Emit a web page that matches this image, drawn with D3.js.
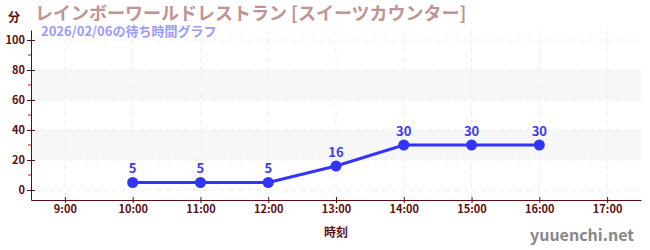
<!DOCTYPE html>
<html lang="ja">
  <head>
    <meta charset="UTF-8" />
    <title>待ち時間グラフ</title>
    <script src="https://d3js.org/d3.v7.min.js"></script>
    <style>
      body { margin: 0; background: #fff; }
      text { font-family: "Noto Sans CJK JP", "Noto Sans", sans-serif; }
    </style>
  </head>
  <body>
    <svg width="650" height="250"></svg>
    <script>
      // data
      const hours = [10, 11, 12, 13, 14, 15, 16];
      const waits = [5, 5, 5, 16, 30, 30, 30];
      const xTicks = [9, 10, 11, 12, 13, 14, 15, 16, 17];
      const yTicks = [0, 20, 40, 60, 80, 100];
      const bands = [[20, 40], [60, 80]];
      const title = "レインボーワールドレストラン [スイーツカウンター]";
      const subtitle = "2026/02/06の待ち時間グラフ";

      const svg = d3.select("svg");
      const plotL = 31, plotR = 641, plotT = 30, plotB = 200;
      const dark = "#5c0f0f";

      const x = d3.scaleLinear().domain([8.5, 17.5]).range([plotL, plotR]);
      const y = d3.scaleLinear().domain([-6.67, 106.67]).range([plotB, plotT]);

      // bands
      svg.append("g").selectAll("rect").data(bands).enter().append("rect")
        .attr("x", plotL).attr("width", plotR - plotL)
        .attr("y", d => y(d[1])).attr("height", d => y(d[0]) - y(d[1]))
        .attr("fill", "#f7f7f7");

      // grid
      const grid = svg.append("g").attr("stroke", "#eeeeee").attr("stroke-dasharray", "5,4");
      grid.selectAll("line.v").data(xTicks).enter().append("line")
        .attr("x1", d => x(d)).attr("x2", d => x(d)).attr("y1", plotT).attr("y2", plotB);
      grid.selectAll("line.h").data(yTicks).enter().append("line")
        .attr("x1", plotL).attr("x2", plotR).attr("y1", d => y(d)).attr("y2", d => y(d));

      // y axis
      const yAxis = svg.append("g").attr("transform", `translate(${plotL},0)`)
        .call(d3.axisLeft(y).tickValues(yTicks).tickSize(4).tickSizeOuter(0));
      yAxis.select(".domain").attr("stroke", dark);
      yAxis.selectAll(".tick line").attr("stroke", dark).attr("x2", 4).attr("x1", -4);
      yAxis.selectAll(".tick text").attr("fill", dark).attr("x", -6)
        .style("font-size", "11px").style("font-weight", "bold");
      // minor ticks
      svg.append("g").selectAll("line").data(d3.range(10, 100, 20)).enter().append("line")
        .attr("x1", plotL - 3).attr("x2", plotL).attr("y1", d => y(d)).attr("y2", d => y(d))
        .attr("stroke", "#d01010");

      // x axis
      const xAxis = svg.append("g").attr("transform", `translate(0,${plotB})`)
        .call(d3.axisBottom(x).tickValues(xTicks).tickFormat(d => d + ":00").tickSize(3).tickSizeOuter(0));
      xAxis.select(".domain").attr("stroke", dark);
      xAxis.selectAll(".tick line").attr("stroke", dark).attr("y1", -3).attr("y2", 3);
      xAxis.selectAll(".tick text").attr("fill", dark).attr("y", 5)
        .style("font-size", "11px").style("font-weight", "bold");

      // line
      const pts = hours.map((h, i) => [h, waits[i]]);
      svg.append("path").datum(pts)
        .attr("d", d3.line().x(d => x(d[0])).y(d => y(d[1])))
        .attr("fill", "none").attr("stroke", "#3333ff").attr("stroke-width", 3);
      svg.append("g").selectAll("circle").data(pts).enter().append("circle")
        .attr("cx", d => x(d[0])).attr("cy", d => y(d[1])).attr("r", 5.5)
        .attr("fill", "#3333ff");
      svg.append("g").selectAll("text").data(pts).enter().append("text")
        .attr("x", d => x(d[0])).attr("y", d => y(d[1]) - 9)
        .attr("text-anchor", "middle").attr("fill", "#3a3af0")
        .style("font-size", "13px").style("font-weight", "bold")
        .text(d => d[1]);

      // texts
      svg.append("text").attr("x", 14).attr("y", 22).attr("text-anchor", "middle")
        .attr("fill", dark).style("font-size", "12px").style("font-weight", "bold").text("分");
      svg.append("text").attr("x", 35).attr("y", 20).attr("fill", "#c09494")
        .style("font-size", "18px").style("font-weight", "bold").text(title);
      svg.append("text").attr("x", 41).attr("y", 36).attr("fill", "#9a9aff")
        .style("font-size", "13px").style("font-weight", "bold").text(subtitle);
      svg.append("text").attr("x", x(13)).attr("y", 237).attr("text-anchor", "middle")
        .attr("fill", dark).style("font-size", "12px").style("font-weight", "bold").text("時刻");
      svg.append("text").attr("x", 634).attr("y", 241).attr("text-anchor", "end")
        .attr("fill", "#888").style("font-size", "16px").style("font-weight", "bold").text("yuuenchi.net");
    </script>
  </body>
</html>
